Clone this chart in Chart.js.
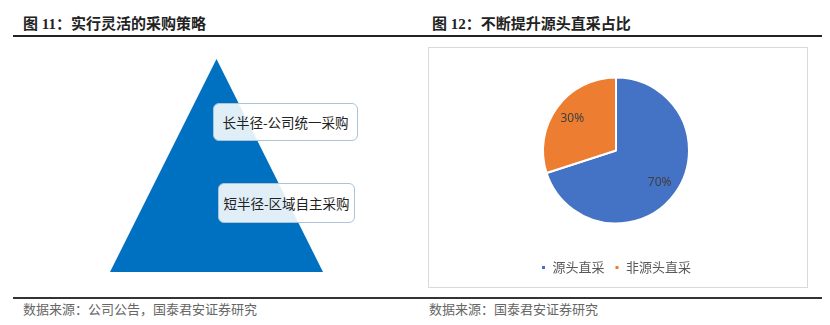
<!DOCTYPE html>
<html lang="zh">
<head>
    <meta charset="UTF-8">
    <title>图 11 / 图 12</title>
    <script src="https://cdn.jsdelivr.net/npm/chart.js"></script>
    <style>
        body {
            margin: 0;
            width: 830px;
            height: 325px;
            background: #fff;
            position: relative;
            overflow: hidden;
            font-family: "Noto Sans CJK SC", sans-serif;
        }
        .title {
            position: absolute;
            top: 14px;
            font-family: "Liberation Serif", "Noto Sans CJK SC", serif;
            font-size: 15px;
            font-weight: bold;
            color: #222;
            line-height: 20px;
        }
        .rule-top {
            position: absolute;
            left: 13px;
            width: 809px;
            top: 35px;
            height: 2px;
            background: #222;
        }
        .rule-bottom {
            position: absolute;
            left: 13px;
            width: 809px;
            top: 297px;
            height: 1.5px;
            background: #333;
        }
        .source {
            position: absolute;
            top: 300px;
            font-size: 13px;
            color: #666;
            line-height: 18px;
        }
        /* 左图：三角形示意 */
        .triangle {
            position: absolute;
            left: 110px;
            top: 59px;
            width: 213px;
            height: 213px;
            background: #0070c0;
            clip-path: polygon(50% 0, 100% 100%, 0 100%);
        }
        .tag {
            position: absolute;
            box-sizing: border-box;
            border: 1px solid #a9c3da;
            border-radius: 6px;
            background: rgba(255, 255, 255, 0.88);
            font-size: 13.5px;
            color: #222;
            display: flex;
            align-items: center;
            justify-content: center;
        }
        .pie-box {
            position: absolute;
            left: 428px;
            top: 47px;
            width: 380px;
            height: 241px;
            box-sizing: border-box;
            border: 1px solid #d9d9d9;
        }
    </style>
</head>
<body>
    <div class="title" style="left:23px;">图 11：实行灵活的采购策略</div>
    <div class="title" style="left:432px;">图 12：不断提升源头直采占比</div>
    <div class="rule-top"></div>

    <div class="triangle"></div>
    <div class="tag" style="left:213px; top:103px; width:145px; height:38px;">长半径-公司统一采购</div>
    <div class="tag" style="left:218px; top:183px; width:137px; height:40px;">短半径-区域自主采购</div>

    <div class="pie-box">
        <canvas id="pieChart" width="378" height="239"></canvas>
    </div>

    <div class="rule-bottom"></div>
    <div class="source" style="left:23px;">数据来源：公司公告，国泰君安证券研究</div>
    <div class="source" style="left:429px;">数据来源：国泰君安证券研究</div>

    <script>
        // 数据
        const categories = ['源头直采', '非源头直采'];
        const shares = [70, 30];
        const sliceColors = ['#4472c4', '#ed7d31'];

        // 在扇区内写百分比
        const sliceLabels = {
            id: 'sliceLabels',
            afterDatasetsDraw(chart) {
                const ctx = chart.ctx;
                const meta = chart.getDatasetMeta(0);
                ctx.save();
                ctx.font = '12px "Noto Sans", "DejaVu Sans", sans-serif';
                ctx.fillStyle = '#404040';
                ctx.textAlign = 'center';
                ctx.textBaseline = 'middle';
                meta.data.forEach((arc, i) => {
                    const p = arc.getProps(['x', 'y', 'startAngle', 'endAngle', 'outerRadius'], true);
                    const mid = (p.startAngle + p.endAngle) / 2;
                    const r = p.outerRadius * 0.74;
                    ctx.fillText(shares[i] + '%', p.x + Math.cos(mid) * r, p.y + Math.sin(mid) * r);
                });
                ctx.restore();
            }
        };

        new Chart(document.getElementById('pieChart'), {
            type: 'pie',
            data: {
                labels: categories,
                datasets: [{
                    data: shares,
                    backgroundColor: sliceColors,
                    borderColor: '#ffffff',
                    borderWidth: 2,
                    radius: 73
                }]
            },
            options: {
                responsive: false,
                animation: false,
                layout: { padding: { top: 2, bottom: 3, left: 0, right: 4 } },
                plugins: {
                    legend: {
                        position: 'bottom',
                        labels: {
                            usePointStyle: true,
                            pointStyle: 'rect',
                            boxWidth: 5,
                            boxHeight: 5,
                            padding: 10,
                            color: '#595959',
                            font: { size: 13, family: '"Noto Sans CJK SC", sans-serif' }
                        }
                    },
                    tooltip: { enabled: false }
                }
            },
            plugins: [sliceLabels]
        });
    </script>
</body>
</html>
